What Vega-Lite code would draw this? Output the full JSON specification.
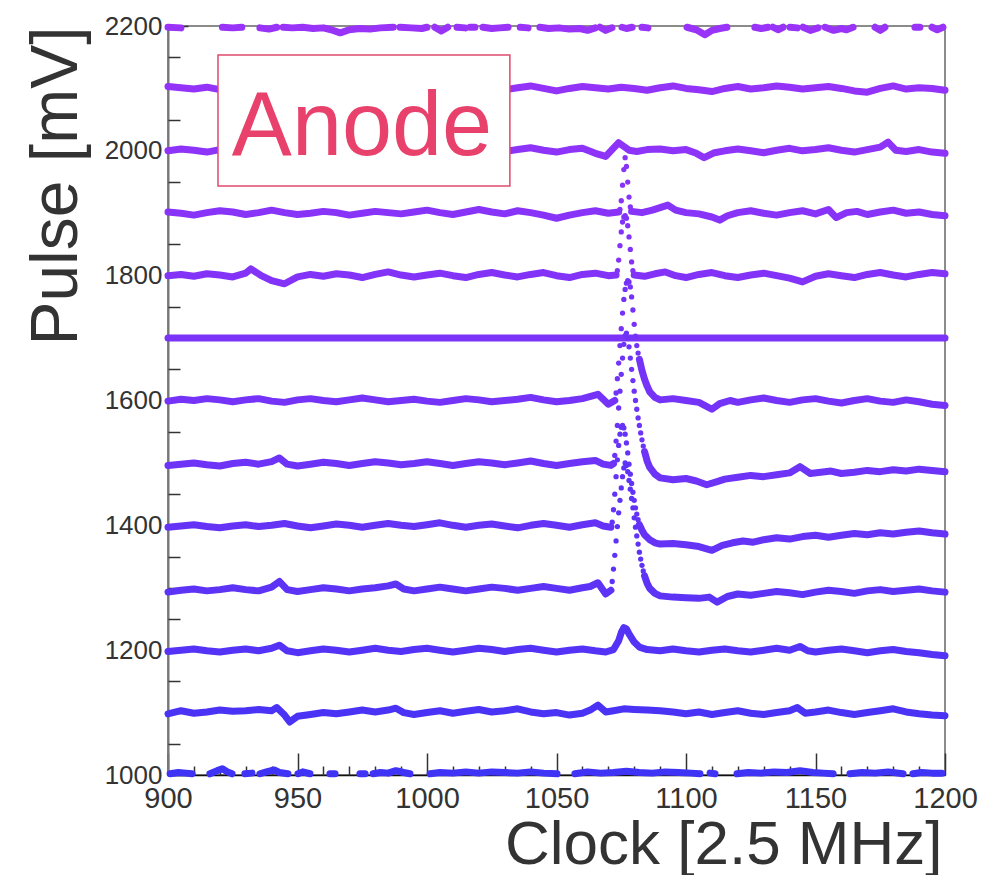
{
"$schema":"https://vega.github.io/schema/vega-lite/v6.json",
"width":777,"height":749,
"autosize":{"type":"none"},
"padding":{"left":168,"top":26,"right":54,"bottom":100},
"background":"white",
"config":{"view":{"stroke":"#666","strokeWidth":1.5},"font":"Liberation Sans"},
"resolve":{"axis":{"x":"independent","y":"independent"}},
"datasets":{
"tr":[
{"t":2200,"g":1,"x":900,"y":2198},{"t":2200,"g":1,"x":905,"y":2197},
{"t":2200,"g":2,"x":921,"y":2198},{"t":2200,"g":2,"x":925,"y":2197},{"t":2200,"g":2,"x":928.5,"y":2198},
{"t":2200,"g":3,"x":935.5,"y":2197},{"t":2200,"g":3,"x":939,"y":2195},{"t":2200,"g":3,"x":942,"y":2198},
{"t":2200,"g":4,"x":944.5,"y":2198},{"t":2200,"g":4,"x":948,"y":2197},{"t":2200,"g":4,"x":952,"y":2198},{"t":2200,"g":4,"x":956,"y":2196},{"t":2200,"g":4,"x":960,"y":2197},{"t":2200,"g":4,"x":963,"y":2194},{"t":2200,"g":4,"x":966.5,"y":2189},{"t":2200,"g":4,"x":970,"y":2194},{"t":2200,"g":4,"x":974,"y":2196},{"t":2200,"g":4,"x":978,"y":2195},{"t":2200,"g":4,"x":982,"y":2197},{"t":2200,"g":4,"x":987,"y":2198},
{"t":2200,"g":5,"x":989.6,"y":2198},{"t":2200,"g":5,"x":994,"y":2197},{"t":2200,"g":5,"x":998,"y":2196},{"t":2200,"g":5,"x":1000,"y":2198},
{"t":2200,"g":6,"x":1003,"y":2198},{"t":2200,"g":6,"x":1005.5,"y":2192},{"t":2200,"g":6,"x":1008,"y":2198},
{"t":2200,"g":7,"x":1011.6,"y":2198},{"t":2200,"g":7,"x":1014.7,"y":2197},
{"t":2200,"g":8,"x":1016.6,"y":2198},{"t":2200,"g":8,"x":1018.5,"y":2198},
{"t":2200,"g":9,"x":1021.6,"y":2198},{"t":2200,"g":9,"x":1025,"y":2196},{"t":2200,"g":9,"x":1028,"y":2197},{"t":2200,"g":9,"x":1031.3,"y":2198},
{"t":2200,"g":10,"x":1036,"y":2198},{"t":2200,"g":10,"x":1039,"y":2197},
{"t":2200,"g":11,"x":1043.6,"y":2198},{"t":2200,"g":11,"x":1047,"y":2196},{"t":2200,"g":11,"x":1051,"y":2197},{"t":2200,"g":11,"x":1055,"y":2195},{"t":2200,"g":11,"x":1059,"y":2196},{"t":2200,"g":11,"x":1062,"y":2193},{"t":2200,"g":11,"x":1065,"y":2197},
{"t":2200,"g":12,"x":1066.8,"y":2198},{"t":2200,"g":12,"x":1069,"y":2193},{"t":2200,"g":12,"x":1071.4,"y":2197},
{"t":2200,"g":13,"x":1075.3,"y":2198},{"t":2200,"g":13,"x":1077,"y":2196},{"t":2200,"g":13,"x":1079.2,"y":2198},
{"t":2200,"g":14,"x":1083,"y":2198},{"t":2200,"g":14,"x":1085.3,"y":2197},
{"t":2200,"g":15,"x":1100.4,"y":2198},{"t":2200,"g":15,"x":1104,"y":2194},{"t":2200,"g":15,"x":1107.3,"y":2186},{"t":2200,"g":15,"x":1110,"y":2193},{"t":2200,"g":15,"x":1113,"y":2196},{"t":2200,"g":15,"x":1115.8,"y":2198},
{"t":2200,"g":16,"x":1126.6,"y":2198},{"t":2200,"g":16,"x":1129,"y":2196},{"t":2200,"g":16,"x":1131.7,"y":2198},
{"t":2200,"g":17,"x":1133.6,"y":2198},{"t":2200,"g":17,"x":1135.5,"y":2194},{"t":2200,"g":17,"x":1137.5,"y":2198},
{"t":2200,"g":18,"x":1140.2,"y":2198},{"t":2200,"g":18,"x":1142.9,"y":2197},
{"t":2200,"g":19,"x":1145.2,"y":2198},{"t":2200,"g":19,"x":1148,"y":2193},{"t":2200,"g":19,"x":1151,"y":2197},
{"t":2200,"g":20,"x":1153.7,"y":2198},{"t":2200,"g":20,"x":1157,"y":2193},{"t":2200,"g":20,"x":1160,"y":2196},{"t":2200,"g":20,"x":1162,"y":2194},{"t":2200,"g":20,"x":1164.5,"y":2198},
{"t":2200,"g":21,"x":1173,"y":2198},{"t":2200,"g":21,"x":1175,"y":2193},{"t":2200,"g":21,"x":1176.8,"y":2198},
{"t":2200,"g":22,"x":1188.4,"y":2198},{"t":2200,"g":22,"x":1190.3,"y":2198},
{"t":2200,"g":23,"x":1195,"y":2198},{"t":2200,"g":23,"x":1197,"y":2194},{"t":2200,"g":23,"x":1199.2,"y":2198},

{"t":2100,"x":900,"y":2103},{"t":2100,"x":905,"y":2101},{"t":2100,"x":910,"y":2099},{"t":2100,"x":915,"y":2102},{"t":2100,"x":920,"y":2098},{"t":2100,"x":925,"y":2101},{"t":2100,"x":930,"y":2104},{"t":2100,"x":935,"y":2100},{"t":2100,"x":940,"y":2097},{"t":2100,"x":945,"y":2101},{"t":2100,"x":950,"y":2103},{"t":2100,"x":955,"y":2099},{"t":2100,"x":960,"y":2100},{"t":2100,"x":965,"y":2104},{"t":2100,"x":970,"y":2101},{"t":2100,"x":975,"y":2098},{"t":2100,"x":980,"y":2100},{"t":2100,"x":985,"y":2103},{"t":2100,"x":990,"y":2101},{"t":2100,"x":995,"y":2099},{"t":2100,"x":1000,"y":2102},{"t":2100,"x":1005,"y":2100},{"t":2100,"x":1010,"y":2097},{"t":2100,"x":1015,"y":2101},{"t":2100,"x":1020,"y":2104},{"t":2100,"x":1025,"y":2100},{"t":2100,"x":1030,"y":2098},{"t":2100,"x":1035,"y":2101},{"t":2100,"x":1040,"y":2104},{"t":2100,"x":1045,"y":2100},{"t":2100,"x":1050,"y":2096},{"t":2100,"x":1055,"y":2100},{"t":2100,"x":1060,"y":2103},{"t":2100,"x":1065,"y":2101},{"t":2100,"x":1070,"y":2099},{"t":2100,"x":1075,"y":2102},{"t":2100,"x":1080,"y":2100},{"t":2100,"x":1085,"y":2097},{"t":2100,"x":1090,"y":2101},{"t":2100,"x":1095,"y":2104},{"t":2100,"x":1100,"y":2100},{"t":2100,"x":1105,"y":2098},{"t":2100,"x":1110,"y":2095},{"t":2100,"x":1115,"y":2100},{"t":2100,"x":1120,"y":2103},{"t":2100,"x":1125,"y":2099},{"t":2100,"x":1130,"y":2101},{"t":2100,"x":1135,"y":2104},{"t":2100,"x":1140,"y":2102},{"t":2100,"x":1145,"y":2099},{"t":2100,"x":1150,"y":2101},{"t":2100,"x":1155,"y":2103},{"t":2100,"x":1160,"y":2100},{"t":2100,"x":1165,"y":2096},{"t":2100,"x":1170,"y":2094},{"t":2100,"x":1175,"y":2100},{"t":2100,"x":1180,"y":2104},{"t":2100,"x":1185,"y":2099},{"t":2100,"x":1190,"y":2101},{"t":2100,"x":1195,"y":2100},{"t":2100,"x":1200,"y":2097},

{"t":2000,"x":900,"y":2000},{"t":2000,"x":905,"y":2003},{"t":2000,"x":910,"y":2001},{"t":2000,"x":915,"y":1998},{"t":2000,"x":920,"y":2002},{"t":2000,"x":925,"y":2005},{"t":2000,"x":930,"y":2001},{"t":2000,"x":935,"y":1999},{"t":2000,"x":940,"y":2002},{"t":2000,"x":945,"y":2000},{"t":2000,"x":950,"y":1997},{"t":2000,"x":955,"y":2001},{"t":2000,"x":960,"y":2004},{"t":2000,"x":965,"y":2000},{"t":2000,"x":970,"y":1998},{"t":2000,"x":975,"y":2002},{"t":2000,"x":980,"y":2004},{"t":2000,"x":985,"y":2001},{"t":2000,"x":990,"y":1998},{"t":2000,"x":995,"y":2001},{"t":2000,"x":1000,"y":2003},{"t":2000,"x":1005,"y":2000},{"t":2000,"x":1010,"y":1997},{"t":2000,"x":1015,"y":2001},{"t":2000,"x":1020,"y":2004},{"t":2000,"x":1025,"y":2002},{"t":2000,"x":1030,"y":1999},{"t":2000,"x":1035,"y":2002},{"t":2000,"x":1040,"y":2005},{"t":2000,"x":1045,"y":2001},{"t":2000,"x":1050,"y":1998},{"t":2000,"x":1055,"y":2002},{"t":2000,"x":1060,"y":2004},{"t":2000,"x":1065,"y":1996},{"t":2000,"x":1069,"y":1991},{"t":2000,"x":1074,"y":2013},{"t":2000,"x":1078,"y":2001},{"t":2000,"x":1081,"y":1999},{"t":2000,"x":1085,"y":2002},{"t":2000,"x":1090,"y":2003},{"t":2000,"x":1095,"y":2000},{"t":2000,"x":1100,"y":2002},{"t":2000,"x":1104,"y":1996},{"t":2000,"x":1107,"y":1989},{"t":2000,"x":1111,"y":1997},{"t":2000,"x":1115,"y":2000},{"t":2000,"x":1120,"y":2003},{"t":2000,"x":1125,"y":2000},{"t":2000,"x":1130,"y":1997},{"t":2000,"x":1135,"y":2001},{"t":2000,"x":1140,"y":2004},{"t":2000,"x":1145,"y":2000},{"t":2000,"x":1150,"y":2002},{"t":2000,"x":1155,"y":2005},{"t":2000,"x":1160,"y":2001},{"t":2000,"x":1165,"y":1998},{"t":2000,"x":1170,"y":2002},{"t":2000,"x":1175,"y":2006},{"t":2000,"x":1178,"y":2014},{"t":2000,"x":1181,"y":2001},{"t":2000,"x":1185,"y":1999},{"t":2000,"x":1190,"y":2002},{"t":2000,"x":1195,"y":1998},{"t":2000,"x":1200,"y":1996},

{"t":1900,"x":900,"y":1902},{"t":1900,"x":905,"y":1900},{"t":1900,"x":910,"y":1897},{"t":1900,"x":915,"y":1901},{"t":1900,"x":920,"y":1904},{"t":1900,"x":925,"y":1902},{"t":1900,"x":930,"y":1898},{"t":1900,"x":935,"y":1901},{"t":1900,"x":940,"y":1905},{"t":1900,"x":945,"y":1901},{"t":1900,"x":950,"y":1898},{"t":1900,"x":955,"y":1900},{"t":1900,"x":960,"y":1903},{"t":1900,"x":965,"y":1901},{"t":1900,"x":970,"y":1897},{"t":1900,"x":975,"y":1900},{"t":1900,"x":980,"y":1903},{"t":1900,"x":985,"y":1901},{"t":1900,"x":990,"y":1899},{"t":1900,"x":995,"y":1902},{"t":1900,"x":1000,"y":1905},{"t":1900,"x":1005,"y":1901},{"t":1900,"x":1010,"y":1898},{"t":1900,"x":1015,"y":1902},{"t":1900,"x":1020,"y":1906},{"t":1900,"x":1025,"y":1902},{"t":1900,"x":1030,"y":1899},{"t":1900,"x":1035,"y":1904},{"t":1900,"x":1040,"y":1901},{"t":1900,"x":1045,"y":1897},{"t":1900,"x":1050,"y":1892},{"t":1900,"x":1055,"y":1897},{"t":1900,"x":1060,"y":1901},{"t":1900,"x":1065,"y":1904},{"t":1900,"x":1070,"y":1900},{"t":1900,"x":1074,"y":1902},
{"t":1900,"g":2,"x":1079,"y":1903},{"t":1900,"g":2,"x":1083,"y":1901},{"t":1900,"g":2,"x":1087,"y":1905},{"t":1900,"g":2,"x":1090,"y":1909},{"t":1900,"g":2,"x":1093,"y":1913},{"t":1900,"g":2,"x":1096,"y":1905},{"t":1900,"g":2,"x":1100,"y":1901},{"t":1900,"g":2,"x":1105,"y":1899},{"t":1900,"g":2,"x":1110,"y":1894},{"t":1900,"g":2,"x":1113,"y":1889},{"t":1900,"g":2,"x":1116,"y":1896},{"t":1900,"g":2,"x":1120,"y":1901},{"t":1900,"g":2,"x":1125,"y":1904},{"t":1900,"g":2,"x":1130,"y":1900},{"t":1900,"g":2,"x":1135,"y":1897},{"t":1900,"g":2,"x":1140,"y":1901},{"t":1900,"g":2,"x":1145,"y":1904},{"t":1900,"g":2,"x":1150,"y":1899},{"t":1900,"g":2,"x":1155,"y":1906},{"t":1900,"g":2,"x":1158,"y":1893},{"t":1900,"g":2,"x":1162,"y":1901},{"t":1900,"g":2,"x":1166,"y":1903},{"t":1900,"g":2,"x":1170,"y":1898},{"t":1900,"g":2,"x":1175,"y":1902},{"t":1900,"g":2,"x":1180,"y":1905},{"t":1900,"g":2,"x":1185,"y":1900},{"t":1900,"g":2,"x":1190,"y":1902},{"t":1900,"g":2,"x":1195,"y":1898},{"t":1900,"g":2,"x":1200,"y":1896},

{"t":1800,"x":900,"y":1800},{"t":1800,"x":905,"y":1802},{"t":1800,"x":910,"y":1799},{"t":1800,"x":915,"y":1803},{"t":1800,"x":920,"y":1801},{"t":1800,"x":925,"y":1798},{"t":1800,"x":930,"y":1804},{"t":1800,"x":932,"y":1811},{"t":1800,"x":936,"y":1800},{"t":1800,"x":940,"y":1792},{"t":1800,"x":945,"y":1787},{"t":1800,"x":950,"y":1798},{"t":1800,"x":955,"y":1802},{"t":1800,"x":960,"y":1799},{"t":1800,"x":965,"y":1803},{"t":1800,"x":970,"y":1801},{"t":1800,"x":975,"y":1797},{"t":1800,"x":980,"y":1802},{"t":1800,"x":985,"y":1806},{"t":1800,"x":990,"y":1801},{"t":1800,"x":995,"y":1798},{"t":1800,"x":1000,"y":1801},{"t":1800,"x":1005,"y":1804},{"t":1800,"x":1010,"y":1800},{"t":1800,"x":1015,"y":1797},{"t":1800,"x":1020,"y":1802},{"t":1800,"x":1025,"y":1805},{"t":1800,"x":1030,"y":1801},{"t":1800,"x":1035,"y":1798},{"t":1800,"x":1040,"y":1802},{"t":1800,"x":1045,"y":1805},{"t":1800,"x":1050,"y":1800},{"t":1800,"x":1055,"y":1797},{"t":1800,"x":1060,"y":1802},{"t":1800,"x":1065,"y":1804},{"t":1800,"x":1070,"y":1800},{"t":1800,"x":1073,"y":1801},
{"t":1800,"g":2,"x":1080,"y":1801},{"t":1800,"g":2,"x":1084,"y":1799},{"t":1800,"g":2,"x":1088,"y":1803},{"t":1800,"g":2,"x":1092,"y":1806},{"t":1800,"g":2,"x":1096,"y":1800},{"t":1800,"g":2,"x":1100,"y":1797},{"t":1800,"g":2,"x":1105,"y":1802},{"t":1800,"g":2,"x":1110,"y":1805},{"t":1800,"g":2,"x":1115,"y":1800},{"t":1800,"g":2,"x":1120,"y":1797},{"t":1800,"g":2,"x":1125,"y":1801},{"t":1800,"g":2,"x":1130,"y":1804},{"t":1800,"g":2,"x":1135,"y":1800},{"t":1800,"g":2,"x":1140,"y":1796},{"t":1800,"g":2,"x":1145,"y":1790},{"t":1800,"g":2,"x":1150,"y":1799},{"t":1800,"g":2,"x":1155,"y":1803},{"t":1800,"g":2,"x":1160,"y":1800},{"t":1800,"g":2,"x":1165,"y":1797},{"t":1800,"g":2,"x":1170,"y":1802},{"t":1800,"g":2,"x":1175,"y":1805},{"t":1800,"g":2,"x":1180,"y":1801},{"t":1800,"g":2,"x":1185,"y":1798},{"t":1800,"g":2,"x":1190,"y":1802},{"t":1800,"g":2,"x":1195,"y":1805},{"t":1800,"g":2,"x":1200,"y":1803},

{"t":1700,"x":900,"y":1700},{"t":1700,"x":1200,"y":1700},

{"t":1600,"x":900,"y":1599},{"t":1600,"x":905,"y":1602},{"t":1600,"x":910,"y":1600},{"t":1600,"x":915,"y":1603},{"t":1600,"x":920,"y":1601},{"t":1600,"x":925,"y":1598},{"t":1600,"x":930,"y":1601},{"t":1600,"x":935,"y":1603},{"t":1600,"x":940,"y":1599},{"t":1600,"x":945,"y":1597},{"t":1600,"x":950,"y":1601},{"t":1600,"x":955,"y":1603},{"t":1600,"x":960,"y":1600},{"t":1600,"x":965,"y":1598},{"t":1600,"x":970,"y":1601},{"t":1600,"x":975,"y":1604},{"t":1600,"x":980,"y":1601},{"t":1600,"x":985,"y":1598},{"t":1600,"x":990,"y":1600},{"t":1600,"x":995,"y":1602},{"t":1600,"x":1000,"y":1599},{"t":1600,"x":1005,"y":1597},{"t":1600,"x":1010,"y":1600},{"t":1600,"x":1015,"y":1603},{"t":1600,"x":1020,"y":1601},{"t":1600,"x":1025,"y":1598},{"t":1600,"x":1030,"y":1600},{"t":1600,"x":1035,"y":1602},{"t":1600,"x":1040,"y":1605},{"t":1600,"x":1045,"y":1601},{"t":1600,"x":1050,"y":1598},{"t":1600,"x":1055,"y":1600},{"t":1600,"x":1060,"y":1603},{"t":1600,"x":1066,"y":1610},{"t":1600,"x":1070,"y":1594},{"t":1600,"x":1072.5,"y":1600},
{"t":1600,"g":2,"x":1082,"y":1666},{"t":1600,"g":2,"x":1083,"y":1648},{"t":1600,"g":2,"x":1084,"y":1634},{"t":1600,"g":2,"x":1085,"y":1623},{"t":1600,"g":2,"x":1086,"y":1614},{"t":1600,"g":2,"x":1088,"y":1605},{"t":1600,"g":2,"x":1090,"y":1601},{"t":1600,"g":2,"x":1095,"y":1603},{"t":1600,"g":2,"x":1100,"y":1600},{"t":1600,"g":2,"x":1105,"y":1597},{"t":1600,"g":2,"x":1110,"y":1586},{"t":1600,"g":2,"x":1113,"y":1595},{"t":1600,"g":2,"x":1117,"y":1600},{"t":1600,"g":2,"x":1120,"y":1597},{"t":1600,"g":2,"x":1125,"y":1601},{"t":1600,"g":2,"x":1130,"y":1604},{"t":1600,"g":2,"x":1135,"y":1600},{"t":1600,"g":2,"x":1140,"y":1597},{"t":1600,"g":2,"x":1145,"y":1601},{"t":1600,"g":2,"x":1150,"y":1603},{"t":1600,"g":2,"x":1155,"y":1599},{"t":1600,"g":2,"x":1160,"y":1596},{"t":1600,"g":2,"x":1165,"y":1600},{"t":1600,"g":2,"x":1170,"y":1603},{"t":1600,"g":2,"x":1175,"y":1599},{"t":1600,"g":2,"x":1180,"y":1597},{"t":1600,"g":2,"x":1185,"y":1601},{"t":1600,"g":2,"x":1190,"y":1598},{"t":1600,"g":2,"x":1195,"y":1594},{"t":1600,"g":2,"x":1200,"y":1592},

{"t":1500,"x":900,"y":1496},{"t":1500,"x":905,"y":1498},{"t":1500,"x":910,"y":1500},{"t":1500,"x":915,"y":1497},{"t":1500,"x":920,"y":1495},{"t":1500,"x":925,"y":1499},{"t":1500,"x":930,"y":1501},{"t":1500,"x":935,"y":1498},{"t":1500,"x":940,"y":1502},{"t":1500,"x":943,"y":1508},{"t":1500,"x":946,"y":1498},{"t":1500,"x":950,"y":1495},{"t":1500,"x":955,"y":1498},{"t":1500,"x":960,"y":1501},{"t":1500,"x":965,"y":1499},{"t":1500,"x":970,"y":1496},{"t":1500,"x":975,"y":1499},{"t":1500,"x":980,"y":1502},{"t":1500,"x":985,"y":1500},{"t":1500,"x":990,"y":1497},{"t":1500,"x":995,"y":1499},{"t":1500,"x":1000,"y":1502},{"t":1500,"x":1005,"y":1499},{"t":1500,"x":1010,"y":1496},{"t":1500,"x":1015,"y":1499},{"t":1500,"x":1020,"y":1502},{"t":1500,"x":1025,"y":1500},{"t":1500,"x":1030,"y":1497},{"t":1500,"x":1035,"y":1500},{"t":1500,"x":1040,"y":1503},{"t":1500,"x":1045,"y":1499},{"t":1500,"x":1050,"y":1496},{"t":1500,"x":1055,"y":1499},{"t":1500,"x":1060,"y":1502},{"t":1500,"x":1065,"y":1504},{"t":1500,"x":1068,"y":1498},{"t":1500,"x":1071,"y":1496},{"t":1500,"x":1072,"y":1499},
{"t":1500,"g":2,"x":1084,"y":1518},{"t":1500,"g":2,"x":1085,"y":1503},{"t":1500,"g":2,"x":1086,"y":1493},{"t":1500,"g":2,"x":1088,"y":1482},{"t":1500,"g":2,"x":1090,"y":1476},{"t":1500,"g":2,"x":1095,"y":1473},{"t":1500,"g":2,"x":1100,"y":1475},{"t":1500,"g":2,"x":1104,"y":1471},{"t":1500,"g":2,"x":1108,"y":1465},{"t":1500,"g":2,"x":1112,"y":1470},{"t":1500,"g":2,"x":1115,"y":1474},{"t":1500,"g":2,"x":1120,"y":1477},{"t":1500,"g":2,"x":1125,"y":1480},{"t":1500,"g":2,"x":1130,"y":1478},{"t":1500,"g":2,"x":1135,"y":1481},{"t":1500,"g":2,"x":1140,"y":1484},{"t":1500,"g":2,"x":1144,"y":1494},{"t":1500,"g":2,"x":1148,"y":1483},{"t":1500,"g":2,"x":1152,"y":1485},{"t":1500,"g":2,"x":1156,"y":1487},{"t":1500,"g":2,"x":1160,"y":1483},{"t":1500,"g":2,"x":1165,"y":1485},{"t":1500,"g":2,"x":1170,"y":1488},{"t":1500,"g":2,"x":1175,"y":1486},{"t":1500,"g":2,"x":1180,"y":1489},{"t":1500,"g":2,"x":1185,"y":1487},{"t":1500,"g":2,"x":1190,"y":1490},{"t":1500,"g":2,"x":1195,"y":1488},{"t":1500,"g":2,"x":1200,"y":1486},

{"t":1400,"x":900,"y":1397},{"t":1400,"x":905,"y":1399},{"t":1400,"x":910,"y":1401},{"t":1400,"x":915,"y":1398},{"t":1400,"x":920,"y":1396},{"t":1400,"x":925,"y":1399},{"t":1400,"x":930,"y":1401},{"t":1400,"x":935,"y":1398},{"t":1400,"x":940,"y":1400},{"t":1400,"x":945,"y":1403},{"t":1400,"x":950,"y":1399},{"t":1400,"x":955,"y":1396},{"t":1400,"x":960,"y":1399},{"t":1400,"x":965,"y":1402},{"t":1400,"x":970,"y":1400},{"t":1400,"x":975,"y":1397},{"t":1400,"x":980,"y":1400},{"t":1400,"x":985,"y":1403},{"t":1400,"x":990,"y":1400},{"t":1400,"x":995,"y":1398},{"t":1400,"x":1000,"y":1401},{"t":1400,"x":1005,"y":1404},{"t":1400,"x":1010,"y":1400},{"t":1400,"x":1015,"y":1397},{"t":1400,"x":1020,"y":1400},{"t":1400,"x":1025,"y":1402},{"t":1400,"x":1030,"y":1399},{"t":1400,"x":1035,"y":1396},{"t":1400,"x":1040,"y":1400},{"t":1400,"x":1045,"y":1403},{"t":1400,"x":1050,"y":1400},{"t":1400,"x":1055,"y":1397},{"t":1400,"x":1060,"y":1401},{"t":1400,"x":1065,"y":1404},{"t":1400,"x":1068,"y":1399},{"t":1400,"x":1071,"y":1397},
{"t":1400,"g":2,"x":1082,"y":1401},{"t":1400,"g":2,"x":1083,"y":1392},{"t":1400,"g":2,"x":1084,"y":1385},{"t":1400,"g":2,"x":1086,"y":1377},{"t":1400,"g":2,"x":1088,"y":1372},{"t":1400,"g":2,"x":1090,"y":1370},{"t":1400,"g":2,"x":1095,"y":1371},{"t":1400,"g":2,"x":1100,"y":1369},{"t":1400,"g":2,"x":1105,"y":1366},{"t":1400,"g":2,"x":1110,"y":1360},{"t":1400,"g":2,"x":1114,"y":1368},{"t":1400,"g":2,"x":1118,"y":1372},{"t":1400,"g":2,"x":1122,"y":1375},{"t":1400,"g":2,"x":1126,"y":1373},{"t":1400,"g":2,"x":1130,"y":1377},{"t":1400,"g":2,"x":1135,"y":1380},{"t":1400,"g":2,"x":1140,"y":1378},{"t":1400,"g":2,"x":1145,"y":1382},{"t":1400,"g":2,"x":1150,"y":1384},{"t":1400,"g":2,"x":1155,"y":1381},{"t":1400,"g":2,"x":1160,"y":1384},{"t":1400,"g":2,"x":1165,"y":1387},{"t":1400,"g":2,"x":1170,"y":1385},{"t":1400,"g":2,"x":1175,"y":1388},{"t":1400,"g":2,"x":1180,"y":1386},{"t":1400,"g":2,"x":1185,"y":1389},{"t":1400,"g":2,"x":1190,"y":1391},{"t":1400,"g":2,"x":1195,"y":1388},{"t":1400,"g":2,"x":1200,"y":1386},

{"t":1300,"x":900,"y":1293},{"t":1300,"x":905,"y":1296},{"t":1300,"x":910,"y":1298},{"t":1300,"x":915,"y":1295},{"t":1300,"x":920,"y":1297},{"t":1300,"x":925,"y":1300},{"t":1300,"x":930,"y":1297},{"t":1300,"x":935,"y":1295},{"t":1300,"x":940,"y":1301},{"t":1300,"x":943,"y":1310},{"t":1300,"x":946,"y":1297},{"t":1300,"x":950,"y":1294},{"t":1300,"x":955,"y":1297},{"t":1300,"x":960,"y":1300},{"t":1300,"x":965,"y":1298},{"t":1300,"x":970,"y":1295},{"t":1300,"x":975,"y":1298},{"t":1300,"x":980,"y":1300},{"t":1300,"x":985,"y":1303},{"t":1300,"x":988,"y":1306},{"t":1300,"x":991,"y":1298},{"t":1300,"x":995,"y":1295},{"t":1300,"x":1000,"y":1298},{"t":1300,"x":1005,"y":1301},{"t":1300,"x":1010,"y":1298},{"t":1300,"x":1015,"y":1295},{"t":1300,"x":1020,"y":1298},{"t":1300,"x":1025,"y":1301},{"t":1300,"x":1030,"y":1299},{"t":1300,"x":1035,"y":1296},{"t":1300,"x":1040,"y":1299},{"t":1300,"x":1045,"y":1302},{"t":1300,"x":1050,"y":1299},{"t":1300,"x":1055,"y":1296},{"t":1300,"x":1060,"y":1300},{"t":1300,"x":1063,"y":1302},{"t":1300,"x":1066,"y":1308},{"t":1300,"x":1069,"y":1290},{"t":1300,"x":1071,"y":1296},
{"t":1300,"g":2,"x":1084,"y":1319},{"t":1300,"g":2,"x":1085,"y":1307},{"t":1300,"g":2,"x":1086,"y":1299},{"t":1300,"g":2,"x":1088,"y":1291},{"t":1300,"g":2,"x":1090,"y":1287},{"t":1300,"g":2,"x":1095,"y":1285},{"t":1300,"g":2,"x":1100,"y":1284},{"t":1300,"g":2,"x":1105,"y":1283},{"t":1300,"g":2,"x":1109,"y":1285},{"t":1300,"g":2,"x":1112,"y":1277},{"t":1300,"g":2,"x":1116,"y":1286},{"t":1300,"g":2,"x":1120,"y":1290},{"t":1300,"g":2,"x":1125,"y":1288},{"t":1300,"g":2,"x":1130,"y":1291},{"t":1300,"g":2,"x":1135,"y":1294},{"t":1300,"g":2,"x":1140,"y":1292},{"t":1300,"g":2,"x":1145,"y":1289},{"t":1300,"g":2,"x":1150,"y":1293},{"t":1300,"g":2,"x":1155,"y":1296},{"t":1300,"g":2,"x":1160,"y":1294},{"t":1300,"g":2,"x":1165,"y":1291},{"t":1300,"g":2,"x":1170,"y":1295},{"t":1300,"g":2,"x":1175,"y":1297},{"t":1300,"g":2,"x":1180,"y":1294},{"t":1300,"g":2,"x":1185,"y":1296},{"t":1300,"g":2,"x":1190,"y":1298},{"t":1300,"g":2,"x":1195,"y":1295},{"t":1300,"g":2,"x":1200,"y":1293},

{"t":1200,"x":900,"y":1198},{"t":1200,"x":905,"y":1200},{"t":1200,"x":910,"y":1202},{"t":1200,"x":915,"y":1199},{"t":1200,"x":920,"y":1197},{"t":1200,"x":925,"y":1200},{"t":1200,"x":930,"y":1202},{"t":1200,"x":935,"y":1199},{"t":1200,"x":940,"y":1203},{"t":1200,"x":943,"y":1208},{"t":1200,"x":946,"y":1199},{"t":1200,"x":950,"y":1196},{"t":1200,"x":955,"y":1199},{"t":1200,"x":960,"y":1202},{"t":1200,"x":965,"y":1200},{"t":1200,"x":970,"y":1197},{"t":1200,"x":975,"y":1200},{"t":1200,"x":980,"y":1203},{"t":1200,"x":985,"y":1200},{"t":1200,"x":990,"y":1198},{"t":1200,"x":995,"y":1201},{"t":1200,"x":1000,"y":1203},{"t":1200,"x":1005,"y":1200},{"t":1200,"x":1010,"y":1197},{"t":1200,"x":1015,"y":1200},{"t":1200,"x":1020,"y":1203},{"t":1200,"x":1025,"y":1201},{"t":1200,"x":1030,"y":1198},{"t":1200,"x":1035,"y":1201},{"t":1200,"x":1040,"y":1203},{"t":1200,"x":1045,"y":1200},{"t":1200,"x":1050,"y":1197},{"t":1200,"x":1055,"y":1200},{"t":1200,"x":1060,"y":1202},{"t":1200,"x":1065,"y":1199},{"t":1200,"x":1069,"y":1197},{"t":1200,"x":1072,"y":1201},{"t":1200,"x":1074,"y":1215},{"t":1200,"x":1075,"y":1228},{"t":1200,"x":1076,"y":1236},{"t":1200,"x":1077,"y":1234},{"t":1200,"x":1078,"y":1226},{"t":1200,"x":1080,"y":1213},{"t":1200,"x":1082,"y":1205},{"t":1200,"x":1085,"y":1201},{"t":1200,"x":1090,"y":1199},{"t":1200,"x":1095,"y":1202},{"t":1200,"x":1100,"y":1199},{"t":1200,"x":1105,"y":1197},{"t":1200,"x":1110,"y":1200},{"t":1200,"x":1115,"y":1202},{"t":1200,"x":1120,"y":1199},{"t":1200,"x":1125,"y":1197},{"t":1200,"x":1130,"y":1200},{"t":1200,"x":1135,"y":1203},{"t":1200,"x":1140,"y":1200},{"t":1200,"x":1144,"y":1206},{"t":1200,"x":1147,"y":1199},{"t":1200,"x":1150,"y":1197},{"t":1200,"x":1155,"y":1200},{"t":1200,"x":1160,"y":1202},{"t":1200,"x":1165,"y":1199},{"t":1200,"x":1170,"y":1196},{"t":1200,"x":1175,"y":1199},{"t":1200,"x":1180,"y":1201},{"t":1200,"x":1185,"y":1198},{"t":1200,"x":1190,"y":1196},{"t":1200,"x":1195,"y":1193},{"t":1200,"x":1200,"y":1191},

{"t":1100,"x":900,"y":1098},{"t":1100,"x":905,"y":1103},{"t":1100,"x":910,"y":1099},{"t":1100,"x":915,"y":1101},{"t":1100,"x":920,"y":1104},{"t":1100,"x":925,"y":1102},{"t":1100,"x":930,"y":1103},{"t":1100,"x":935,"y":1105},{"t":1100,"x":940,"y":1103},{"t":1100,"x":942,"y":1108},{"t":1100,"x":945,"y":1096},{"t":1100,"x":947,"y":1085},{"t":1100,"x":950,"y":1094},{"t":1100,"x":955,"y":1097},{"t":1100,"x":960,"y":1100},{"t":1100,"x":965,"y":1098},{"t":1100,"x":970,"y":1101},{"t":1100,"x":975,"y":1104},{"t":1100,"x":980,"y":1101},{"t":1100,"x":985,"y":1104},{"t":1100,"x":988,"y":1107},{"t":1100,"x":991,"y":1100},{"t":1100,"x":995,"y":1097},{"t":1100,"x":1000,"y":1100},{"t":1100,"x":1005,"y":1103},{"t":1100,"x":1010,"y":1099},{"t":1100,"x":1015,"y":1102},{"t":1100,"x":1020,"y":1105},{"t":1100,"x":1025,"y":1101},{"t":1100,"x":1030,"y":1103},{"t":1100,"x":1035,"y":1106},{"t":1100,"x":1040,"y":1101},{"t":1100,"x":1045,"y":1098},{"t":1100,"x":1050,"y":1100},{"t":1100,"x":1055,"y":1096},{"t":1100,"x":1060,"y":1099},{"t":1100,"x":1063,"y":1104},{"t":1100,"x":1066,"y":1112},{"t":1100,"x":1069,"y":1101},{"t":1100,"x":1072,"y":1103},{"t":1100,"x":1076,"y":1106},{"t":1100,"x":1080,"y":1105},{"t":1100,"x":1085,"y":1104},{"t":1100,"x":1090,"y":1103},{"t":1100,"x":1095,"y":1101},{"t":1100,"x":1100,"y":1098},{"t":1100,"x":1105,"y":1101},{"t":1100,"x":1110,"y":1097},{"t":1100,"x":1115,"y":1100},{"t":1100,"x":1120,"y":1103},{"t":1100,"x":1125,"y":1099},{"t":1100,"x":1130,"y":1097},{"t":1100,"x":1135,"y":1100},{"t":1100,"x":1140,"y":1103},{"t":1100,"x":1143,"y":1108},{"t":1100,"x":1146,"y":1099},{"t":1100,"x":1150,"y":1101},{"t":1100,"x":1155,"y":1104},{"t":1100,"x":1160,"y":1100},{"t":1100,"x":1165,"y":1097},{"t":1100,"x":1170,"y":1100},{"t":1100,"x":1175,"y":1103},{"t":1100,"x":1180,"y":1106},{"t":1100,"x":1185,"y":1101},{"t":1100,"x":1190,"y":1098},{"t":1100,"x":1195,"y":1096},{"t":1100,"x":1200,"y":1095},

{"t":1000,"g":1,"x":900.8,"y":1002},{"t":1000,"g":1,"x":904,"y":1004},{"t":1000,"g":1,"x":907,"y":1003},{"t":1000,"g":1,"x":909.3,"y":1002},
{"t":1000,"g":2,"x":916.2,"y":1002},{"t":1000,"g":2,"x":919,"y":1007},{"t":1000,"g":2,"x":921,"y":1010},{"t":1000,"g":2,"x":923,"y":1005},{"t":1000,"g":2,"x":924.7,"y":1002},
{"t":1000,"g":3,"x":929.7,"y":1002},{"t":1000,"g":3,"x":932.4,"y":1003},
{"t":1000,"g":4,"x":935.5,"y":1002},{"t":1000,"g":4,"x":938,"y":1005},{"t":1000,"g":4,"x":941,"y":1008},{"t":1000,"g":4,"x":943,"y":1004},{"t":1000,"g":4,"x":946.3,"y":1002},
{"t":1000,"g":5,"x":950.2,"y":1002},{"t":1000,"g":5,"x":952,"y":1005},{"t":1000,"g":5,"x":954.8,"y":1002},
{"t":1000,"g":6,"x":962.5,"y":1002},{"t":1000,"g":6,"x":964.5,"y":1002},
{"t":1000,"g":7,"x":974.1,"y":1002},{"t":1000,"g":7,"x":976.1,"y":1002},
{"t":1000,"g":8,"x":979.2,"y":1002},{"t":1000,"g":8,"x":982,"y":1004},{"t":1000,"g":8,"x":985,"y":1003},{"t":1000,"g":8,"x":988,"y":1007},{"t":1000,"g":8,"x":991,"y":1004},{"t":1000,"g":8,"x":993.4,"y":1002},
{"t":1000,"g":9,"x":1001.2,"y":1002},{"t":1000,"g":9,"x":1005,"y":1004},{"t":1000,"g":9,"x":1010,"y":1003},{"t":1000,"g":9,"x":1015,"y":1005},{"t":1000,"g":9,"x":1020,"y":1003},{"t":1000,"g":9,"x":1025,"y":1005},{"t":1000,"g":9,"x":1030,"y":1004},{"t":1000,"g":9,"x":1035,"y":1003},{"t":1000,"g":9,"x":1040,"y":1005},{"t":1000,"g":9,"x":1045,"y":1003},{"t":1000,"g":9,"x":1050.2,"y":1002},
{"t":1000,"g":10,"x":1057.1,"y":1002},{"t":1000,"g":10,"x":1062,"y":1005},{"t":1000,"g":10,"x":1067,"y":1003},{"t":1000,"g":10,"x":1072,"y":1004},{"t":1000,"g":10,"x":1077,"y":1006},{"t":1000,"g":10,"x":1082,"y":1004},{"t":1000,"g":10,"x":1087,"y":1003},{"t":1000,"g":10,"x":1092,"y":1005},{"t":1000,"g":10,"x":1097,"y":1004},{"t":1000,"g":10,"x":1102,"y":1003},{"t":1000,"g":10,"x":1105.4,"y":1002},
{"t":1000,"g":11,"x":1109.3,"y":1003},{"t":1000,"g":11,"x":1111.2,"y":1002},
{"t":1000,"g":12,"x":1119.7,"y":1002},{"t":1000,"g":12,"x":1124,"y":1004},{"t":1000,"g":12,"x":1129,"y":1003},{"t":1000,"g":12,"x":1134,"y":1005},{"t":1000,"g":12,"x":1139,"y":1004},{"t":1000,"g":12,"x":1144,"y":1007},{"t":1000,"g":12,"x":1149,"y":1004},{"t":1000,"g":12,"x":1153,"y":1003},{"t":1000,"g":12,"x":1156.8,"y":1002},
{"t":1000,"g":13,"x":1163.3,"y":1002},{"t":1000,"g":13,"x":1168,"y":1004},{"t":1000,"g":13,"x":1173,"y":1003},{"t":1000,"g":13,"x":1178,"y":1005},{"t":1000,"g":13,"x":1183.8,"y":1002},
{"t":1000,"g":14,"x":1187.6,"y":1002},{"t":1000,"g":14,"x":1191,"y":1004},{"t":1000,"g":14,"x":1195,"y":1003},{"t":1000,"g":14,"x":1198.8,"y":1003}
],
"pu":[
{"t":1900,"x":1074.5,"y":1906},{"t":1900,"x":1075,"y":1920},{"t":1900,"x":1075.5,"y":1945},{"t":1900,"x":1076,"y":1970},{"t":1900,"x":1076.5,"y":1989},{"t":1900,"x":1077,"y":1975},{"t":1900,"x":1077.5,"y":1950},{"t":1900,"x":1078,"y":1926},{"t":1900,"x":1078.5,"y":1910},
{"t":1800,"x":1073.5,"y":1808},{"t":1800,"x":1074,"y":1825},{"t":1800,"x":1074.5,"y":1848},{"t":1800,"x":1075,"y":1870},{"t":1800,"x":1075.5,"y":1886},{"t":1800,"x":1076,"y":1894},{"t":1800,"x":1076.5,"y":1896},{"t":1800,"x":1077,"y":1892},{"t":1800,"x":1077.5,"y":1880},{"t":1800,"x":1078,"y":1862},{"t":1800,"x":1078.5,"y":1842},{"t":1800,"x":1079,"y":1822},{"t":1800,"x":1079.5,"y":1808},
{"t":1600,"x":1073,"y":1612},{"t":1600,"x":1073.5,"y":1635},{"t":1600,"x":1074,"y":1660},{"t":1600,"x":1074.5,"y":1688},{"t":1600,"x":1075,"y":1715},{"t":1600,"x":1075.5,"y":1740},{"t":1600,"x":1076,"y":1762},{"t":1600,"x":1076.5,"y":1778},{"t":1600,"x":1077,"y":1788},{"t":1600,"x":1077.5,"y":1792},{"t":1600,"x":1078,"y":1790},{"t":1600,"x":1078.5,"y":1782},{"t":1600,"x":1079,"y":1766},{"t":1600,"x":1079.5,"y":1745},{"t":1600,"x":1080,"y":1722},{"t":1600,"x":1080.5,"y":1703},{"t":1600,"x":1081,"y":1688},{"t":1600,"x":1081.5,"y":1676},
{"t":1500,"x":1072.5,"y":1512},{"t":1500,"x":1073,"y":1535},{"t":1500,"x":1073.5,"y":1560},{"t":1500,"x":1074,"y":1588},{"t":1500,"x":1074.5,"y":1615},{"t":1500,"x":1075,"y":1642},{"t":1500,"x":1075.5,"y":1668},{"t":1500,"x":1076,"y":1690},{"t":1500,"x":1076.5,"y":1704},{"t":1500,"x":1077,"y":1708},{"t":1500,"x":1077.5,"y":1700},{"t":1500,"x":1078,"y":1686},{"t":1500,"x":1078.5,"y":1668},{"t":1500,"x":1079,"y":1650},{"t":1500,"x":1079.5,"y":1632},{"t":1500,"x":1080,"y":1615},{"t":1500,"x":1080.5,"y":1600},{"t":1500,"x":1081,"y":1586},{"t":1500,"x":1081.5,"y":1572},{"t":1500,"x":1082,"y":1560},{"t":1500,"x":1082.5,"y":1548},{"t":1500,"x":1083,"y":1537},{"t":1500,"x":1083.5,"y":1527},
{"t":1400,"x":1071.5,"y":1405},{"t":1400,"x":1072,"y":1425},{"t":1400,"x":1072.5,"y":1450},{"t":1400,"x":1073,"y":1478},{"t":1400,"x":1073.5,"y":1505},{"t":1400,"x":1074,"y":1528},{"t":1400,"x":1074.5,"y":1546},{"t":1400,"x":1075,"y":1557},{"t":1400,"x":1075.5,"y":1560},{"t":1400,"x":1076,"y":1556},{"t":1400,"x":1076.5,"y":1546},{"t":1400,"x":1077,"y":1532},{"t":1400,"x":1077.5,"y":1516},{"t":1400,"x":1078,"y":1498},{"t":1400,"x":1078.5,"y":1482},{"t":1400,"x":1079,"y":1467},{"t":1400,"x":1079.5,"y":1453},{"t":1400,"x":1080,"y":1440},{"t":1400,"x":1080.5,"y":1428},{"t":1400,"x":1081,"y":1418},{"t":1400,"x":1081.5,"y":1409},
{"t":1300,"x":1071.5,"y":1310},{"t":1300,"x":1072,"y":1330},{"t":1300,"x":1072.5,"y":1352},{"t":1300,"x":1073,"y":1375},{"t":1300,"x":1073.5,"y":1398},{"t":1300,"x":1074,"y":1420},{"t":1300,"x":1074.5,"y":1440},{"t":1300,"x":1075,"y":1460},{"t":1300,"x":1075.5,"y":1478},{"t":1300,"x":1076,"y":1492},{"t":1300,"x":1076.5,"y":1500},{"t":1300,"x":1077,"y":1496},{"t":1300,"x":1077.5,"y":1486},{"t":1300,"x":1078,"y":1472},{"t":1300,"x":1078.5,"y":1458},{"t":1300,"x":1079,"y":1443},{"t":1300,"x":1079.5,"y":1428},{"t":1300,"x":1080,"y":1412},{"t":1300,"x":1080.5,"y":1397},{"t":1300,"x":1081,"y":1383},{"t":1300,"x":1081.5,"y":1370},{"t":1300,"x":1082,"y":1357},{"t":1300,"x":1082.5,"y":1346},{"t":1300,"x":1083,"y":1336},{"t":1300,"x":1083.5,"y":1327}
],
"lab":[{"label":"Anode"}]
},
"layer":[
{"data":{"name":"tr"},
 "mark":{"type":"line","strokeWidth":7,"strokeCap":"round","strokeJoin":"round"},
 "encoding":{
  "x":{"field":"x","type":"quantitative","title":"Clock [2.5 MHz]",
   "scale":{"domain":[900,1200],"nice":false,"zero":false},
   "axis":{"orient":"bottom","values":[900,950,1000,1050,1100,1150,1200],
    "format":"d","tickSize":-22,
    "tickColor":"#333","tickWidth":1.5,"domainColor":"#111","domainWidth":1.5,
    "labelFont":"Liberation Sans","labelFontSize":29,"labelColor":"#333","labelPadding":31,"labelOverlap":false,"labelFlush":false,"grid":false,
    "titleFont":"Liberation Sans","titleFontSize":62,"titleFontWeight":"normal","titleColor":"#333",
    "titleAnchor":"end","titleAlign":"right","titleBaseline":"alphabetic","titleX":774,"titleY":88}},
  "y":{"field":"y","type":"quantitative","title":"Pulse [mV]",
   "scale":{"domain":[1000,2200],"nice":false,"zero":false},
   "axis":{"orient":"left","values":[1000,1200,1400,1600,1800,2000,2200],
    "format":"d","tickSize":-20,"tickColor":"#333","tickWidth":1.5,"domainColor":"#777","domainWidth":2,
    "labelFont":"Liberation Sans","labelFontSize":26,"labelColor":"#333","labelPadding":26,"labelOverlap":false,"labelFlush":false,"grid":false,
    "titleFont":"Liberation Sans","titleFontSize":66,"titleFontWeight":"normal","titleColor":"#333",
    "titleAngle":270,"titleAnchor":"end","titleAlign":"right","titleBaseline":"alphabetic","titleX":-92,"titleY":0}},
  "color":{"field":"t","type":"quantitative","scale":{"domain":[1000,2200],"range":["#3f33f5","#9a33f8"]},"legend":null},
  "detail":[{"field":"t"},{"field":"g"}]
 }},
{"data":{"name":"pu"},
 "mark":{"type":"point","filled":true,"size":28,"opacity":1},
 "encoding":{
  "x":{"field":"x","type":"quantitative",
   "axis":{"orient":"bottom","title":null,"labels":false,"domain":false,"grid":false,"tickSize":-9,"tickColor":"#333","tickWidth":1.5,
    "values":[910,920,930,940,960,970,980,990,1010,1020,1030,1040,1060,1070,1080,1090,1110,1120,1130,1140,1160,1170,1180,1190]}},
  "y":{"field":"y","type":"quantitative",
   "axis":{"orient":"left","title":null,"labels":false,"domain":false,"grid":false,"tickSize":-12,"tickColor":"#333","tickWidth":1.5,
    "values":[1050,1100,1150,1250,1300,1350,1450,1500,1550,1650,1700,1750,1850,1900,1950,2050,2100,2150]}},
  "color":{"field":"t","type":"quantitative","legend":null}
 }},
{"data":{"name":"lab"},
 "mark":{"type":"rect","fill":"white","stroke":"#df4a6e","strokeWidth":1.5},
 "encoding":{
  "x":{"datum":919.3,"type":"quantitative","axis":null},
  "x2":{"datum":1032},
  "y":{"datum":2153.5,"type":"quantitative","axis":null},
  "y2":{"datum":1943.6}
 }},
{"data":{"name":"lab"},
 "mark":{"type":"text","font":"Liberation Sans","fontSize":90,"color":"#e8416b","align":"center","baseline":"alphabetic"},
 "encoding":{
  "text":{"field":"label"},
  "x":{"datum":974.9,"type":"quantitative","axis":null},
  "y":{"datum":1993,"type":"quantitative","axis":null}
 }}
]
}
